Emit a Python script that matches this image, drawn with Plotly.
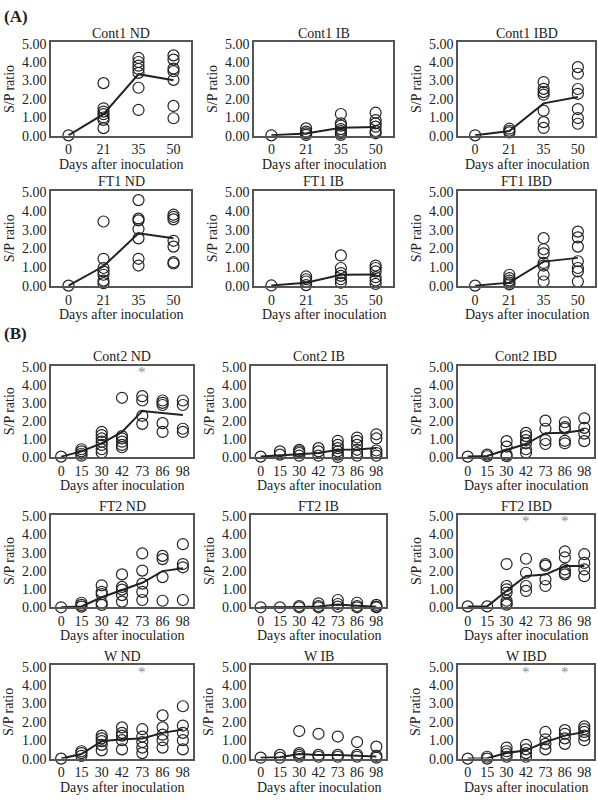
import plotly.graph_objects as go

# ---------------- data ----------------
days_A = ["0", "21", "35", "50"]
days_B = ["0", "15", "30", "42", "73", "86", "98"]

# (A) Cont1
cont1_nd_pts = [[0.02], [2.86, 1.49, 1.31, 1.17, 0.99, 0.86, 0.41],
                [4.23, 4.01, 3.81, 3.63, 3.42, 2.61, 1.40],
                [4.37, 4.14, 3.65, 3.51, 3.04, 1.62, 0.95]]
cont1_nd_mean = [0.02, 1.17, 3.35, 3.02]
cont1_ib_pts = [[0.02], [0.40, 0.22, 0.13, 0.04],
                [1.18, 0.67, 0.55, 0.36, 0.25, 0.13, 0.04],
                [1.25, 0.85, 0.67, 0.49, 0.25, 0.13]]
cont1_ib_mean = [0.02, 0.12, 0.43, 0.47]
cont1_ibd_pts = [[0.02], [0.38, 0.27, 0.18],
                 [2.92, 2.55, 2.37, 2.23, 1.36, 0.74, 0.42],
                 [3.73, 3.37, 2.54, 2.28, 1.45, 0.96, 0.65]]
cont1_ibd_mean = [0.02, 0.25, 1.76, 2.10]

# (A) FT1
ft1_nd_pts = [[0.02], [3.44, 1.45, 0.96, 0.78, 0.60, 0.29, 0.15],
              [4.58, 3.59, 3.50, 3.04, 2.54, 1.45, 1.09],
              [3.80, 3.68, 3.55, 2.41, 2.10, 1.27, 1.20]]
ft1_nd_mean = [0.02, 1.05, 2.81, 2.55]
ft1_ib_pts = [[0.03], [0.51, 0.36, 0.24, 0.05],
              [1.63, 0.96, 0.69, 0.54, 0.36, 0.18],
              [1.09, 0.96, 0.78, 0.47, 0.29, 0.11]]
ft1_ib_mean = [0.03, 0.18, 0.60, 0.62]
ft1_ibd_pts = [[0.02], [0.60, 0.42, 0.29, 0.18, 0.09],
               [2.55, 1.96, 1.74, 1.23, 1.09, 0.60, 0.24],
               [2.90, 2.59, 2.10, 1.32, 0.96, 0.78, 0.24]]
ft1_ibd_mean = [0.02, 0.18, 1.30, 1.50]

# (B) Cont2
cont2_nd_pts = [[0.02], [0.43, 0.31, 0.18, 0.07],
                [1.39, 1.21, 1.03, 0.85, 0.67, 0.43, 0.25],
                [3.29, 1.16, 1.03, 0.85, 0.67, 0.54],
                [3.38, 3.14, 2.29, 1.84],
                [3.14, 3.01, 2.89, 1.88, 1.39],
                [3.14, 2.89, 1.57, 1.39]]
cont2_nd_mean = [0.02, 0.31, 0.76, 1.39, 2.56, 2.45, 2.33]
cont2_nd_stars = ["73"]
cont2_ib_pts = [[0.02], [0.31, 0.13], [0.40, 0.31, 0.22, 0.07],
                [0.49, 0.31, 0.07], [0.90, 0.67, 0.49, 0.31, 0.13, 0.0],
                [1.08, 0.90, 0.67, 0.40, 0.22, 0.07],
                [1.26, 1.03, 0.36, 0.22, 0.07]]
cont2_ib_mean = [0.02, 0.08, 0.15, 0.22, 0.40, 0.42, 0.50]
cont2_ibd_pts = [[0.02], [0.13, 0.04], [0.88, 0.58, 0.13, 0.04],
                 [1.34, 1.16, 0.94, 0.76, 0.43, 0.25],
                 [2.02, 1.57, 0.94, 0.72],
                 [1.93, 1.66, 1.57, 0.90, 0.76],
                 [2.15, 1.62, 1.30, 0.88]]
cont2_ibd_mean = [0.02, 0.05, 0.40, 0.72, 1.32, 1.35, 1.50]

# (B) FT2
ft2_nd_pts = [[0.0], [0.25, 0.13, 0.04], [1.21, 0.85, 0.72, 0.25, 0.13],
              [1.81, 1.12, 0.97, 0.67, 0.31],
              [2.96, 2.02, 1.30, 0.85, 0.40],
              [2.83, 2.65, 1.66, 0.36],
              [3.47, 2.38, 2.20, 0.40]]
ft2_nd_mean = [0.0, 0.05, 0.55, 0.95, 1.35, 1.99, 2.15]
ft2_ib_pts = [[0.0], [0.0], [0.07, 0.0], [0.22, 0.07, 0.0],
              [0.40, 0.18, 0.04], [0.25, 0.07, 0.0], [0.13, 0.04, 0.0]]
ft2_ib_mean = [0.0, 0.0, 0.02, 0.05, 0.15, 0.08, 0.03]
ft2_ibd_pts = [[0.05], [0.05], [2.38, 1.17, 0.99, 0.81, 0.36, 0.22, 0.14],
               [2.67, 1.90, 1.17, 0.90],
               [2.38, 2.29, 1.53, 1.17],
               [3.07, 2.74, 2.08, 1.90, 1.81],
               [2.92, 2.44, 2.08, 1.71]]
ft2_ibd_mean = [0.05, 0.05, 0.90, 1.72, 1.80, 2.27, 2.27]
ft2_ibd_stars = ["42", "86"]

# (B) W
w_nd_pts = [[0.0], [0.40, 0.30, 0.15], [1.25, 1.10, 0.95, 0.75, 0.45],
            [1.70, 1.40, 1.25, 1.00, 0.50],
            [1.60, 1.20, 0.90, 0.60, 0.30],
            [2.35, 1.70, 1.30, 1.00, 0.60],
            [2.85, 1.80, 1.40, 1.00, 0.50]]
w_nd_mean = [0.0, 0.25, 0.95, 1.05, 1.10, 1.40, 1.58]
w_nd_stars = ["73"]
w_ib_pts = [[0.05], [0.20, 0.05], [1.50, 0.30, 0.20, 0.10],
            [1.35, 0.20, 0.10], [1.20, 0.20, 0.10],
            [0.90, 0.20, 0.10], [0.65, 0.15, 0.05]]
w_ib_mean = [0.05, 0.08, 0.25, 0.20, 0.20, 0.18, 0.12]
w_ibd_pts = [[0.0], [0.10, 0.0], [0.60, 0.40, 0.25, 0.10],
             [0.75, 0.50, 0.30, 0.10], [1.45, 1.05, 0.80, 0.50],
             [1.55, 1.35, 1.10, 0.80], [1.75, 1.60, 1.45, 1.25, 1.00]]
w_ibd_mean = [0.0, 0.02, 0.30, 0.45, 0.90, 1.25, 1.45]
w_ibd_stars = ["42", "86"]

# ---------------- layout geometry (pixels) ----------------
W, H = 598, 800
cols_A = [(51, 191), (254, 393), (458, 595)]
cols_B = [(51, 193), (251, 386), (458, 594)]
rows = [(37, 132), (188, 285), (366, 459), (518, 612), (671, 766)]

panels = [
    ("Cont1 ND", days_A, cont1_nd_pts, cont1_nd_mean, [], 0, 0),
    ("Cont1 IB", days_A, cont1_ib_pts, cont1_ib_mean, [], 0, 1),
    ("Cont1 IBD", days_A, cont1_ibd_pts, cont1_ibd_mean, [], 0, 2),
    ("FT1 ND", days_A, ft1_nd_pts, ft1_nd_mean, [], 1, 0),
    ("FT1 IB", days_A, ft1_ib_pts, ft1_ib_mean, [], 1, 1),
    ("FT1 IBD", days_A, ft1_ibd_pts, ft1_ibd_mean, [], 1, 2),
    ("Cont2 ND", days_B, cont2_nd_pts, cont2_nd_mean, cont2_nd_stars, 2, 0),
    ("Cont2 IB", days_B, cont2_ib_pts, cont2_ib_mean, [], 2, 1),
    ("Cont2 IBD", days_B, cont2_ibd_pts, cont2_ibd_mean, [], 2, 2),
    ("FT2 ND", days_B, ft2_nd_pts, ft2_nd_mean, [], 3, 0),
    ("FT2 IB", days_B, ft2_ib_pts, ft2_ib_mean, [], 3, 1),
    ("FT2 IBD", days_B, ft2_ibd_pts, ft2_ibd_mean, ft2_ibd_stars, 3, 2),
    ("W ND", days_B, w_nd_pts, w_nd_mean, w_nd_stars, 4, 0),
    ("W IB", days_B, w_ib_pts, w_ib_mean, [], 4, 1),
    ("W IBD", days_B, w_ibd_pts, w_ibd_mean, w_ibd_stars, 4, 2),
]

FONT = "Liberation Serif, DejaVu Serif, serif"
TXT = "#222222"
STAR_Y = 4.72
fig = go.Figure()
layout = dict(width=W, height=H, margin=dict(l=0, r=0, t=0, b=0),
              paper_bgcolor="white", plot_bgcolor="white", showlegend=False,
              font=dict(family=FONT, size=14, color=TXT))
annotations = []

def px(x):
    return x / W

def py(y):
    return 1 - y / H

for i, (title, cats, pts, mean, stars, r, c) in enumerate(panels, start=1):
    cols = cols_A if r < 2 else cols_B
    x0, x1 = cols[c]
    top, bot = rows[r]
    xa = "x" if i == 1 else f"x{i}"
    ya = "y" if i == 1 else f"y{i}"
    xs, ys = [], []
    for cat, vals in zip(cats, pts):
        for v in vals:
            xs.append(cat)
            ys.append(v)
    fig.add_trace(go.Scatter(x=cats, y=mean, mode="lines",
                             line=dict(color="#222222", width=2),
                             xaxis=xa, yaxis=ya, cliponaxis=False))
    fig.add_trace(go.Scatter(x=xs, y=ys, mode="markers",
                             marker=dict(symbol="circle", size=11,
                                         color="rgba(0,0,0,0)",
                                         line=dict(color="#222222", width=1.2)),
                             xaxis=xa, yaxis=ya, cliponaxis=False))
    for s in stars:
        annotations.append(dict(text="*", x=cats.index(s), y=STAR_Y,
                                xref=xa, yref=ya,
                                showarrow=False, xanchor="center",
                                yanchor="middle",
                                font=dict(size=15, family=FONT, color="#888888")))
    xkey = "xaxis" if i == 1 else f"xaxis{i}"
    ykey = "yaxis" if i == 1 else f"yaxis{i}"
    layout[xkey] = dict(domain=[px(x0), px(x1)], anchor=ya, type="category",
                        categoryorder="array", categoryarray=cats,
                        range=[-0.5, len(cats) - 0.5], showgrid=False,
                        zeroline=False, showline=True, mirror=True,
                        linecolor="#555555", linewidth=1.5, ticks="",
                        ticklabelstandoff=0,
                        tickfont=dict(size=14, family=FONT, color=TXT),
                        fixedrange=True)
    layout[ykey] = dict(domain=[py(bot), py(top)], anchor=xa,
                        range=[0, 5.08], tick0=0, dtick=1, tickformat=".2f",
                        showgrid=False, zeroline=False, showline=True,
                        mirror=True, linecolor="#555555", linewidth=1.5,
                        ticks="", tickfont=dict(size=14, family=FONT, color=TXT),
                        fixedrange=True)
    annotations.append(dict(text=title, x=px((x0 + x1) / 2), y=py(top - 9),
                            xref="paper", yref="paper", showarrow=False,
                            xanchor="center", yanchor="middle",
                            font=dict(size=14, family=FONT, color=TXT)))
    annotations.append(dict(text="Days after inoculation", x=px((x0 + x1) / 2),
                            y=py(bot + 29), xref="paper", yref="paper",
                            showarrow=False, xanchor="center", yanchor="middle",
                            font=dict(size=14, family=FONT, color=TXT)))
    annotations.append(dict(text="S/P ratio", x=px(x0 - 42), y=py((top + bot) / 2),
                            xref="paper", yref="paper", showarrow=False,
                            textangle=-90, xanchor="center", yanchor="middle",
                            font=dict(size=14, family=FONT, color=TXT)))

annotations.append(dict(text="<b>(A)</b>", x=px(2), y=py(11), xref="paper",
                        yref="paper", showarrow=False, xanchor="left",
                        yanchor="middle", font=dict(size=17, family=FONT, color=TXT)))
annotations.append(dict(text="<b>(B)</b>", x=px(2), y=py(333), xref="paper",
                        yref="paper", showarrow=False, xanchor="left",
                        yanchor="middle", font=dict(size=17, family=FONT, color=TXT)))

layout["annotations"] = annotations
fig.update_layout(**layout)
fig.write_html("out.html", config={"displayModeBar": False},
               post_script="document.body.style.margin='0px';"
                           "document.body.style.overflow='hidden';")
